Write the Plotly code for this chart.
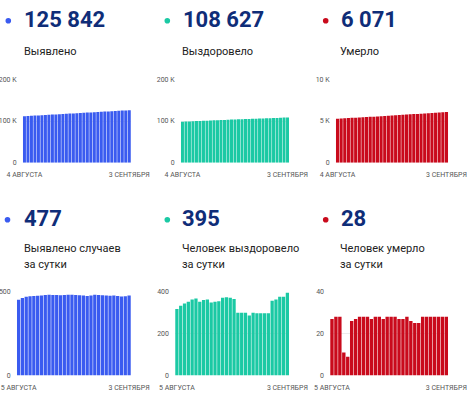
import pandas as pd
import plotly.graph_objects as go

W, H = 473, 399

# ---------------- data ----------------
dates_top = [d.strftime("%Y-%m-%d") for d in pd.date_range("2020-08-04", "2020-09-03")]
dates_bottom = [d.strftime("%Y-%m-%d") for d in pd.date_range("2020-08-05", "2020-09-03")]

detected_total = [111553, 112005, 112468, 112938, 113411, 113885, 114361, 114839, 115319, 115801,
                  116282, 116762, 117241, 117721, 118203, 118685, 119165, 119644, 120121, 120596,
                  121074, 121556, 122037, 122516, 122993, 123469, 123946, 124420, 124892, 125365,
                  125842]
recovered_total = [98397, 98714, 99047, 99391, 99743, 100106, 100474, 100826, 101186, 101549,
                   101898, 102250, 102605, 102976, 103350, 103721, 104086, 104386, 104686, 104986,
                   105272, 105572, 105869, 106166, 106463, 106760, 107117, 107480, 107856, 108232,
                   108627]
deaths_total = [5283, 5310, 5338, 5366, 5377, 5386, 5412, 5439, 5467, 5495,
                5523, 5550, 5578, 5606, 5633, 5661, 5689, 5717, 5744, 5771,
                5799, 5825, 5850, 5875, 5903, 5931, 5959, 5987, 6015, 6043,
                6071]

detected_daily = [452, 463, 470, 473, 474, 476, 478, 480, 482, 481, 480, 479, 480, 482, 482,
                  480, 479, 477, 475, 478, 482, 481, 479, 477, 476, 477, 474, 472, 473, 477]
recovered_daily = [317, 333, 344, 352, 363, 368, 352, 360, 363, 349, 352, 355, 371, 374, 371,
                   365, 300, 300, 300, 286, 300, 297, 297, 297, 297, 357, 363, 376, 376, 395]
deaths_daily = [27, 28, 28, 11, 9, 26, 27, 28, 28, 28, 27, 28, 28, 27, 28,
                28, 28, 27, 27, 28, 26, 25, 25, 28, 28, 28, 28, 28, 28, 28]

headline_numbers = ["125 842", "108 627", "6 071", "477", "395", "28"]
panel_titles = [["Выявлено"], ["Выздоровело"], ["Умерло"],
                ["Выявлено случаев", "за сутки"], ["Человек выздоровело", "за сутки"],
                ["Человек умерло", "за сутки"]]
top_xticks = ["4 АВГУСТА", "3 СЕНТЯБРЯ"]
bottom_xticks = ["5 АВГУСТА", "3 СЕНТЯБРЯ"]
top_left_yticks = [0, 100000, 200000]
top_left_ytext = ["0", "100 K", "200 K"]
top_right_yticks = [0, 5000, 10000]
top_right_ytext = ["0", "5 K", "10 K"]
bl_yticks = [0, 500]
bm_yticks = [0, 200, 400]
br_yticks = [0, 20, 40]

# ---------------- style ----------------
BLUE, GREEN, RED = "#3a5bf0", "#1bc9a4", "#c90a1c"
NAVY = "#0f2d78"
FONT = "Roboto"


def px_x(x):
    return x / W


def px_y(y):
    return 1 - y / H


panels = [
    (dates_top, detected_total, BLUE, (22.7, 131), (79.3, 162.7), (0, 200000),
     top_left_yticks, top_left_ytext, top_xticks),
    (dates_top, recovered_total, GREEN, (180.7, 289.3), (79.3, 162.7), (0, 200000),
     top_left_yticks, top_left_ytext, top_xticks),
    (dates_top, deaths_total, RED, (335.7, 448.3), (79.3, 162.7), (0, 10000),
     top_right_yticks, top_right_ytext, top_xticks),
    (dates_bottom, detected_daily, BLUE, (16.7, 131), (291.7, 375.5), (0, 500),
     bl_yticks, [str(v) for v in bl_yticks], bottom_xticks),
    (dates_bottom, recovered_daily, GREEN, (175, 289.3), (291.7, 375.5), (0, 400),
     bm_yticks, [str(v) for v in bm_yticks], bottom_xticks),
    (dates_bottom, deaths_daily, RED, (330, 448.3), (291.7, 375.5), (0, 40),
     br_yticks, [str(v) for v in br_yticks], bottom_xticks),
]

fig = go.Figure()
layout = dict(
    width=W, height=H, autosize=False,
    margin=dict(l=0, r=0, t=0, b=0, pad=0, autoexpand=False),
    paper_bgcolor="white", plot_bgcolor="white",
    showlegend=False, bargap=0.14,
    font=dict(family=FONT, color="#555555", size=7),
)

for i, (xs, ys, col, xd, yd, yr, tv, tt, xt) in enumerate(panels):
    n = "" if i == 0 else str(i + 1)
    fig.add_trace(go.Bar(x=xs, y=ys, marker=dict(color=col, line=dict(width=0)),
                         xaxis="x" + n, yaxis="y" + n, hoverinfo="x+y"))
    layout["xaxis" + n] = dict(
        domain=[px_x(xd[0]), px_x(xd[1])], anchor="y" + n, type="category",
        tickvals=[xs[0], xs[-1]], ticktext=xt, showgrid=False, showline=False,
        zeroline=False, ticks="", ticklabelstandoff=6, automargin=False,
        tickfont=dict(family=FONT, size=7, color="#555555"),
    )
    layout["yaxis" + n] = dict(
        domain=[px_y(yd[1]), px_y(yd[0])], anchor="x" + n, range=list(yr),
        tickvals=tv, ticktext=tt, showgrid=True, gridcolor="#ececec", gridwidth=1,
        zeroline=False, showline=False, ticks="", ticklabelstandoff=5, automargin=False,
        tickfont=dict(family=FONT, size=7, color="#555555"),
    )

fig.update_layout(**layout)

num_x = [23, 181.5, 340, 22.7, 181, 340]
num_y = [19.5, 19.5, 19.5, 218.5, 218.5, 218.5]
dot_x = [8.3, 167.3, 325.7, 7.5, 167.3, 325.7]
title_x = [22.7, 180.5, 339.3, 22.7, 180.7, 339.3]
title_y = [51, 51, 51, 248.5, 248.5, 248.5]
title_step = 15.5
colors = [BLUE, GREEN, RED, BLUE, GREEN, RED]

shapes = []
for i in range(6):
    fig.add_annotation(x=px_x(num_x[i]), y=px_y(num_y[i]), xref="paper", yref="paper",
                       text="<b>" + headline_numbers[i] + "</b>", showarrow=False,
                       xanchor="left", yanchor="middle", xshift=-1,
                       font=dict(family=FONT, size=22, color=NAVY))
    for k, line in enumerate(panel_titles[i]):
        fig.add_annotation(x=px_x(title_x[i]), y=px_y(title_y[i] + k * title_step),
                           xref="paper", yref="paper",
                           text=line, showarrow=False, align="left",
                           xanchor="left", yanchor="middle", xshift=-1,
                           font=dict(family=FONT, size=11, color="#222222"))
    cy = num_y[i] + 1.3
    r = 2.8
    shapes.append(dict(type="circle", xref="paper", yref="paper",
                       x0=px_x(dot_x[i] - r), x1=px_x(dot_x[i] + r),
                       y0=px_y(cy + r), y1=px_y(cy - r),
                       fillcolor=colors[i], line=dict(width=0)))
fig.update_layout(shapes=shapes)

fig.write_html(
    "out.html",
    config={"displayModeBar": False},
    post_script="document.body.style.margin='0';document.body.style.overflow='hidden';",
)
